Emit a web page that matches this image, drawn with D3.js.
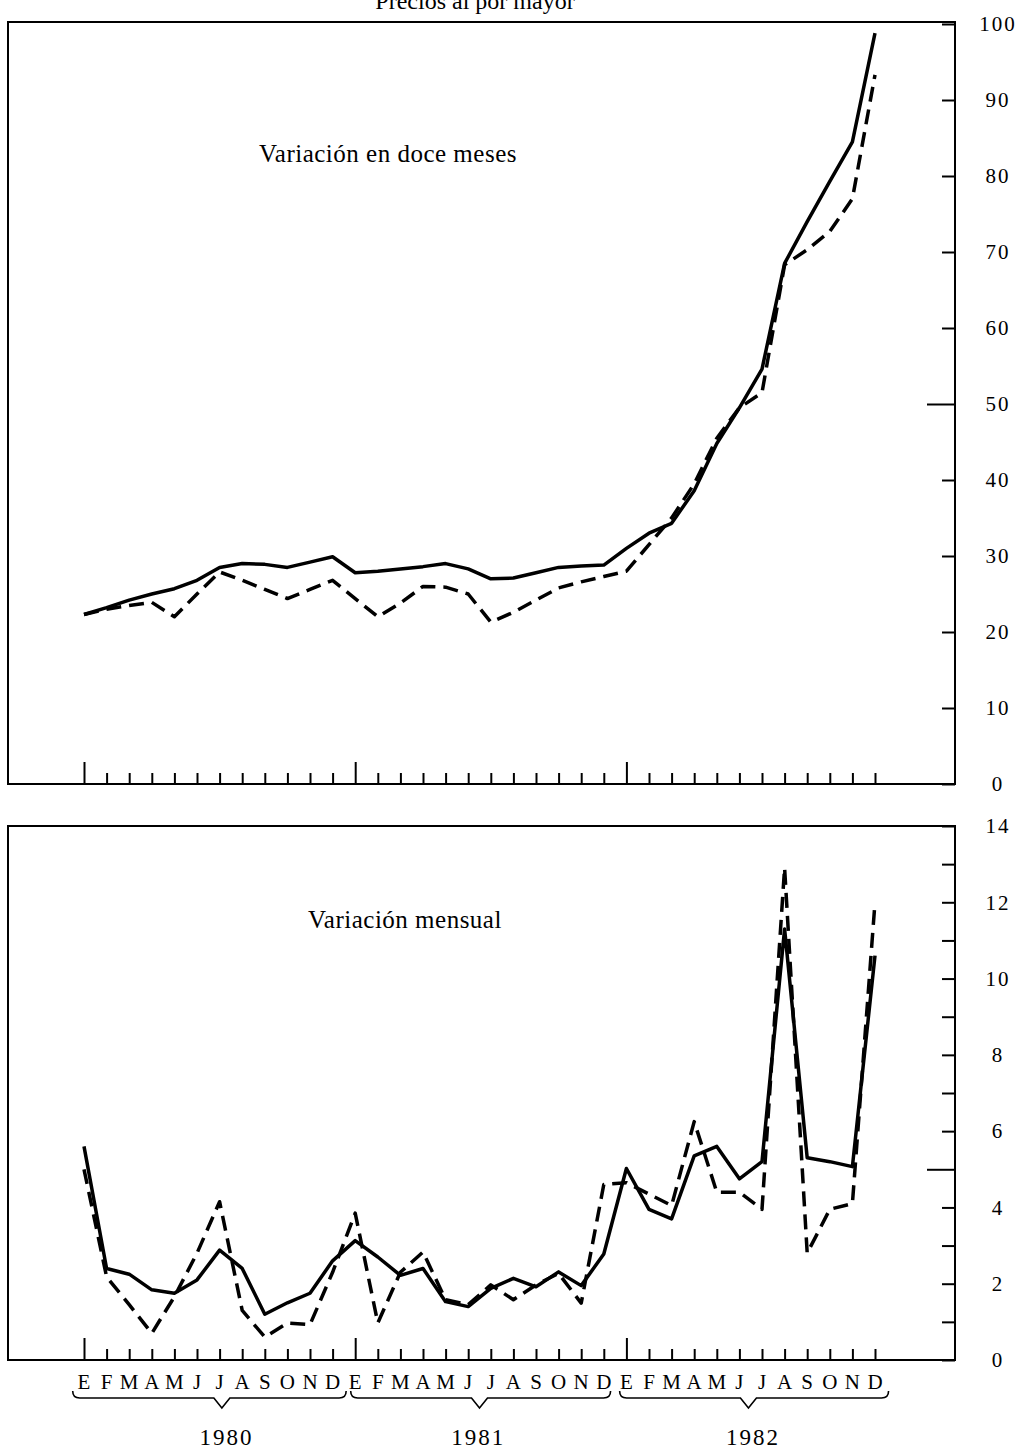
<!DOCTYPE html>
<html><head><meta charset="utf-8">
<script src="https://cdn.jsdelivr.net/npm/d3@7"></script>
<style>
body{margin:0;background:#fff}
svg text{font-family:"Liberation Serif","DejaVu Serif",serif;fill:#000}
</style>
</head><body>
<svg id="c" width="1021" height="1452"></svg>
<script>
// ---- data ----
const monthLetters = ["E","F","M","A","M","J","J","A","S","O","N","D"];
const years = ["1980","1981","1982"];
const topTicks = [0,10,20,30,40,50,60,70,80,90,100];
const bottomTicks = [0,1,2,3,4,5,6,7,8,9,10,11,12,13,14];

// Variación en doce meses (%)
const twelveSolid = [22.3,23.2,24.2,25.0,25.7,26.8,28.5,29.0,28.9,28.5,29.2,29.9,
                     27.8,28.0,28.3,28.6,29.0,28.3,27.0,27.1,27.8,28.5,28.7,28.8,
                     31.0,33.0,34.3,38.6,44.8,49.5,54.6,68.5,74.0,79.3,84.5,98.8];
const twelveDashed = [22.3,23.0,23.5,23.9,22.0,25.0,27.9,26.8,25.6,24.4,25.6,26.8,
                      24.4,22.0,23.8,26.0,25.9,25.0,21.3,22.6,24.2,25.8,26.6,27.3,
                      28.0,31.5,35.0,39.5,45.5,49.5,51.5,68.3,70.3,72.7,77.0,93.3];
// Variación mensual (%)
const monthlySolid = [5.6,2.4,2.25,1.84,1.75,2.1,2.88,2.4,1.2,1.5,1.75,2.6,
                      3.13,2.7,2.22,2.4,1.53,1.4,1.88,2.14,1.92,2.31,1.95,2.78,
                      5.02,3.95,3.7,5.35,5.6,4.75,5.2,11.3,5.3,5.2,5.07,10.6];
const monthlyDashed = [5.0,2.18,1.45,0.7,1.66,2.8,4.15,1.3,0.6,0.97,0.93,2.3,
                       3.85,0.97,2.3,2.83,1.58,1.45,1.97,1.58,1.97,2.27,1.49,4.6,
                       4.65,4.35,4.05,6.25,4.4,4.4,3.95,12.9,2.8,3.95,4.1,12.0];

const title = "Precios al por mayor";
const topLabel = "Variación en doce meses";
const bottomLabel = "Variación mensual";

// ---- layout ----
const svg = d3.select("#c");
const L = 8, R = 955;
const nMonths = twelveSolid.length;
const x = d3.scaleLinear().domain([0, nMonths-1]).range([84, 875]);

const panels = [
  {top:22, bottom:784, domain:[0,100], ticks:topTicks, solid:twelveSolid, dashed:twelveDashed,
   label:topLabel, labelX:388, labelY:162, longTick:50, fmt:d=>d},
  {top:826, bottom:1360, domain:[0,14], ticks:bottomTicks, solid:monthlySolid, dashed:monthlyDashed,
   label:bottomLabel, labelX:405, labelY:928, longTick:5, fmt:d=>d%2===0?d:""}
];

svg.append("text").attr("x",475).attr("y",9).attr("text-anchor","middle")
  .style("font-size","24px").text(title);

panels.forEach((p,pi)=>{
  const y = d3.scaleLinear().domain(p.domain).range([p.bottom, pi===0?24:p.top]);
  const g = svg.append("g");
  // frame
  g.append("rect").attr("x",L).attr("y",p.top).attr("width",R-L).attr("height",p.bottom-p.top)
    .attr("fill","none").attr("stroke","#000").attr("stroke-width",2);

  // right y axis
  const ya = g.append("g").attr("transform",`translate(${R},0)`)
    .call(d3.axisRight(y).tickValues(p.ticks).tickSizeInner(-13).tickSizeOuter(0).tickFormat(p.fmt));
  ya.select(".domain").remove();
  ya.selectAll(".tick line").attr("stroke","#000").attr("stroke-width",2)
    .attr("x2",d=>d===p.longTick?-28:-13);
  ya.selectAll(".tick text").attr("x",43).attr("text-anchor","middle")
    .style("font-size","21px").style("letter-spacing","2px").attr("fill","#000");

  // bottom x ticks (upward)
  const xa = g.append("g").attr("transform",`translate(0,${p.bottom})`)
    .call(d3.axisBottom(x).tickValues(d3.range(nMonths)).tickSize(-10).tickFormat(""));
  xa.select(".domain").remove();
  xa.selectAll(".tick line").attr("stroke","#000").attr("stroke-width",2)
    .attr("y2",d=>d%12===0?-22:-11);

  // lines
  const line = d3.line().x((d,i)=>x(i)).y(d=>y(d));
  g.append("path").datum(p.solid).attr("d",line).attr("fill","none")
    .attr("stroke","#000").attr("stroke-width",3.5).attr("stroke-linejoin","round");
  g.append("path").datum(p.dashed).attr("d",line).attr("fill","none")
    .attr("stroke","#000").attr("stroke-width",3.5).attr("stroke-dasharray","15,8")
    .attr("stroke-linejoin","round");

  g.append("text").attr("x",p.labelX).attr("y",p.labelY).attr("text-anchor","middle")
    .style("font-size","25px").style("letter-spacing","0.5px").text(p.label);
});

// month letters
const letters = d3.range(nMonths).map(i=>monthLetters[i%12]);
svg.append("g").selectAll("text").data(letters).join("text")
  .attr("x",(d,i)=>x(i)).attr("y",1389).attr("text-anchor","middle")
  .style("font-size","21px").text(d=>d);

// braces + year labels (positions expressed in month units)
const braceSpans = [[-0.5,11.6,6.1],[11.8,23.3,17.5],[23.7,35.6,29.4]];
const yearLabelAt = [6.3,17.45,29.6];
const braceG = svg.append("g");
years.forEach((yr,k)=>{
  const [a,b,c] = braceSpans[k];
  const xa = x(a), xb = x(b), xc = x(c);
  const y0 = 1391, y1 = 1398, y2 = 1408;
  const path = `M${xa},${y0} Q${xa},${y1} ${xa+7},${y1} L${xc-8},${y1} L${xc},${y2} L${xc+8},${y1} L${xb-7},${y1} Q${xb},${y1} ${xb},${y0}`;
  braceG.append("path").attr("d",path).attr("fill","none").attr("stroke","#000").attr("stroke-width",1.6);
  svg.append("text").attr("x",x(yearLabelAt[k])).attr("y",1445).attr("text-anchor","middle")
    .style("font-size","23px").style("letter-spacing","2px").text(yr);
});
</script>
</body></html>
